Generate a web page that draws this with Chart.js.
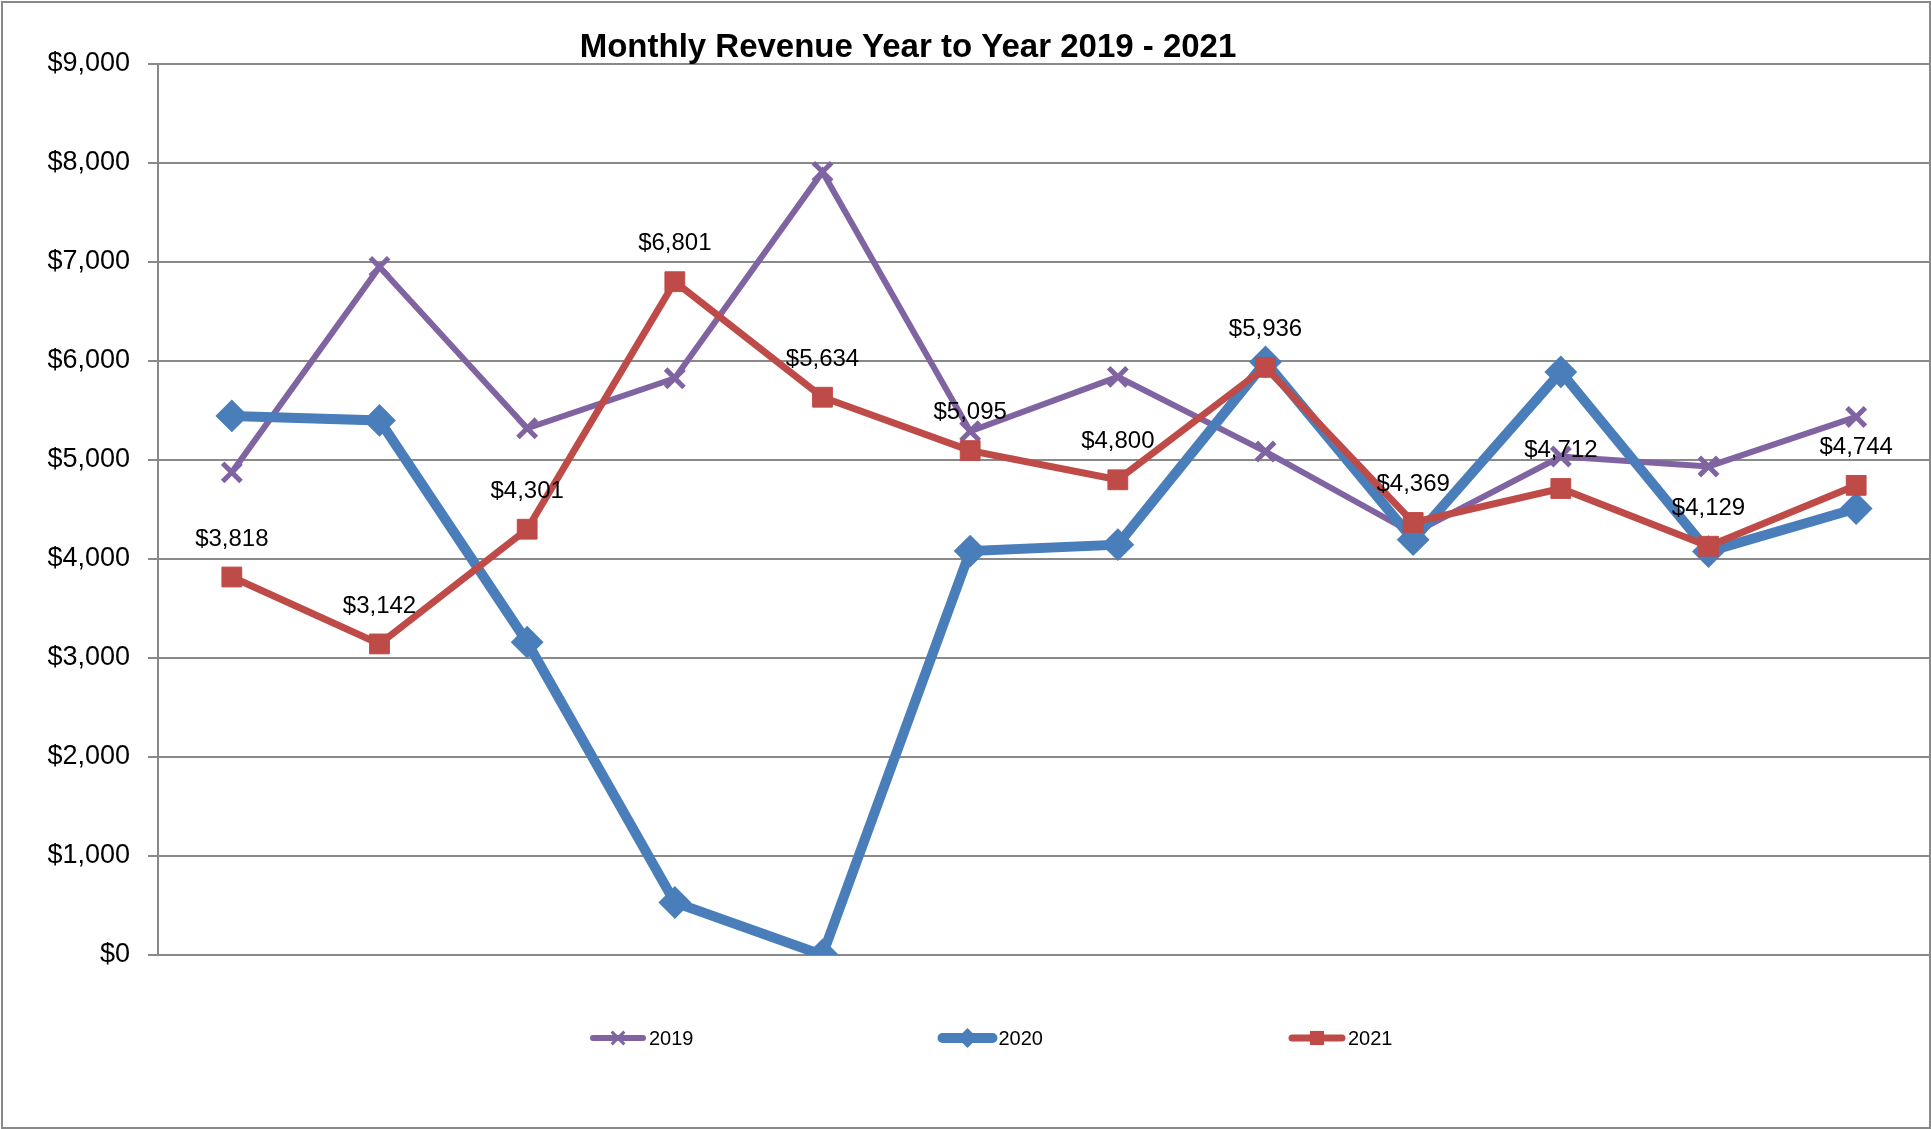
<!DOCTYPE html>
<html>
<head>
<meta charset="utf-8">
<script src="https://cdn.jsdelivr.net/npm/chart.js@4/dist/chart.umd.min.js"></script>
<style>
  html, body { margin: 0; padding: 0; background: #fff; }
  #wrap { width: 1931px; height: 1129px; }
</style>
</head>
<body>
<div id="wrap"><canvas id="revenueChart" width="1931" height="1129"></canvas></div>
<script>
// data (2021 values are printed on the chart)
const months = ['Jan', 'Feb', 'Mar', 'Apr', 'May', 'Jun', 'Jul', 'Aug', 'Sep', 'Oct', 'Nov', 'Dec'];
const revenue2019 = [4875, 6950, 5320, 5825, 7910, 5290, 5840, 5085, 4260, 5035, 4935, 5435];
const revenue2020 = [5445, 5400, 3160, 530, 0, 4080, 4145, 5990, 4195, 5890, 4075, 4510];
const revenue2021 = [3818, 3142, 4301, 6801, 5634, 5095, 4800, 5936, 4369, 4712, 4129, 4744];
const seriesNames = ['2019', '2020', '2021'];
const chartTitle = 'Monthly Revenue Year to Year 2019 - 2021';

const FONT = '"Liberation Sans", Arial, sans-serif';
const GRID = '#898989';

function money(v) {
    return '$' + Number(v).toLocaleString('en-US');
}

// white background + thin grey frame round the whole chart
const framePlugin = {
    id: 'frame',
    beforeDraw(chart) {
        const ctx = chart.ctx;
        ctx.save();
        ctx.fillStyle = '#fff';
        ctx.fillRect(0, 0, chart.width, chart.height);
        ctx.strokeStyle = GRID;
        ctx.lineWidth = 2;
        ctx.strokeRect(2, 2, chart.width - 3, chart.height - 3);
        ctx.restore();
    }
};

// title sits a bit left of centre, like the original
const titlePlugin = {
    id: 'titleText',
    afterDraw(chart) {
        const ctx = chart.ctx;
        ctx.save();
        ctx.font = 'bold 33px ' + FONT;
        ctx.fillStyle = '#000';
        ctx.textAlign = 'center';
        ctx.textBaseline = 'middle';
        ctx.fillText(chartTitle, 908, 48);
        ctx.restore();
    }
};

// value labels above the 2021 points
const labelPlugin = {
    id: 'valueLabels',
    afterDatasetsDraw(chart) {
        const ctx = chart.ctx;
        const meta = chart.getDatasetMeta(2);
        ctx.save();
        ctx.font = '24px ' + FONT;
        ctx.fillStyle = '#000';
        ctx.textAlign = 'center';
        ctx.textBaseline = 'middle';
        meta.data.forEach((pt, i) => {
            ctx.fillText(money(revenue2021[i]), pt.x, pt.y - 38);
        });
        ctx.restore();
    }
};

function drawMarker(ctx, style, x, y, r, color, bw) {
    ctx.save();
    ctx.fillStyle = color;
    ctx.strokeStyle = color;
    ctx.lineWidth = bw;
    ctx.beginPath();
    if (style === 'crossRot') {
        const d = r * Math.SQRT1_2;
        ctx.moveTo(x - d, y - d); ctx.lineTo(x + d, y + d);
        ctx.moveTo(x - d, y + d); ctx.lineTo(x + d, y - d);
        ctx.stroke();
    } else if (style === 'rectRot') {
        ctx.moveTo(x - r, y); ctx.lineTo(x, y - r); ctx.lineTo(x + r, y); ctx.lineTo(x, y + r);
        ctx.closePath();
        ctx.fill();
    } else {
        const s = r * Math.SQRT1_2;
        ctx.rect(x - s, y - s, 2 * s, 2 * s);
        ctx.fill();
    }
    ctx.restore();
}

// legend along the bottom, items spread wide apart
const legendPlugin = {
    id: 'bottomLegend',
    afterDraw(chart) {
        const ctx = chart.ctx;
        const y = 1038;
        const legendMarks = [
            { r: 9, bw: 3 },
            { r: 10, bw: 1 },
            { r: 10, bw: 1 }
        ];
        chart.data.datasets.forEach((ds, i) => {
            const x0 = 589 + i * 349.5;
            ctx.save();
            ctx.strokeStyle = ds.borderColor;
            ctx.lineWidth = ds.borderWidth;
            ctx.lineCap = 'round';
            ctx.beginPath();
            ctx.moveTo(x0 + 4, y);
            ctx.lineTo(x0 + 54, y);
            ctx.stroke();
            ctx.restore();
            drawMarker(ctx, ds.pointStyle, x0 + 29, y, legendMarks[i].r, ds.borderColor, legendMarks[i].bw);
            ctx.save();
            ctx.font = '20px ' + FONT;
            ctx.fillStyle = '#000';
            ctx.textAlign = 'left';
            ctx.textBaseline = 'middle';
            ctx.fillText(ds.label, x0 + 60, y + 1);
            ctx.restore();
        });
    }
};

const ctx = document.getElementById('revenueChart').getContext('2d');
new Chart(ctx, {
    type: 'line',
    data: {
        labels: months,
        datasets: [
            {
                label: seriesNames[0],
                data: revenue2019,
                borderColor: '#8064A2',
                backgroundColor: '#8064A2',
                borderWidth: 6,
                pointStyle: 'crossRot',
                pointRadius: 13,
                pointBorderWidth: 5,
                pointBorderColor: '#8064A2',
                tension: 0,
                order: 2
            },
            {
                label: seriesNames[1],
                data: revenue2020,
                borderColor: '#4A7EBB',
                backgroundColor: '#4A7EBB',
                borderWidth: 10,
                pointStyle: 'rectRot',
                pointRadius: 15,
                pointBorderWidth: 2,
                pointBorderColor: '#4A7EBB',
                tension: 0,
                order: 1
            },
            {
                label: seriesNames[2],
                data: revenue2021,
                borderColor: '#BE4B48',
                backgroundColor: '#BE4B48',
                borderWidth: 7,
                pointStyle: 'rect',
                pointRadius: 14,
                pointBorderWidth: 1,
                pointBorderColor: '#BE4B48',
                tension: 0,
                order: 0
            }
        ]
    },
    options: {
        responsive: false,
        animation: false,
        devicePixelRatio: 1,
        layout: { autoPadding: false, padding: { left: 2, right: 1, top: 64, bottom: 174 } },
        plugins: {
            legend: { display: false },
            title: { display: false },
            tooltip: { enabled: false }
        },
        scales: {
            x: {
                display: false,
                offset: true
            },
            y: {
                min: 0,
                max: 9000,
                afterFit(scale) { scale.width = 156; },
                ticks: {
                    stepSize: 1000,
                    padding: 18,
                    color: '#000',
                    font: { family: FONT, size: 27 },
                    callback: v => money(v)
                },
                grid: {
                    color: GRID,
                    lineWidth: 2,
                    tickLength: 10
                },
                border: { display: true, color: GRID, width: 2 }
            }
        }
    },
    plugins: [framePlugin, titlePlugin, labelPlugin, legendPlugin]
});
</script>
</body>
</html>
